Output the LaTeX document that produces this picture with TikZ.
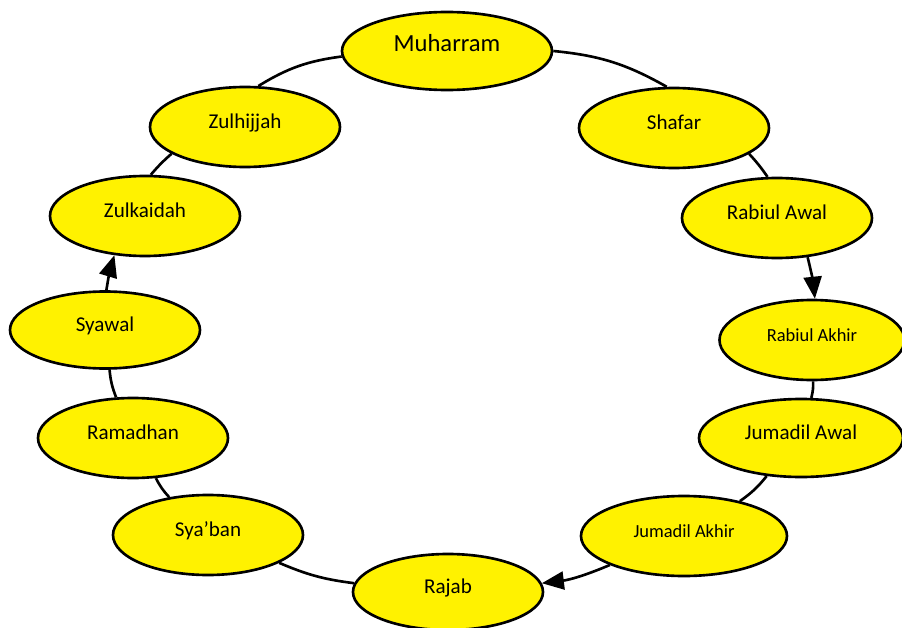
\documentclass[tikz,border=0pt]{standalone}
\usepackage{fontspec}
\setmainfont{Carlito}
\usepackage{tikz}
\usetikzlibrary{shapes.geometric, arrows.meta}
\tikzset{month/.style={ellipse, draw=black, fill=yellow, line width=1.5pt, inner sep=0pt, text height=0.3cm, text depth=0.26cm, minimum width=3.8cm, minimum height=1.6cm, font=\fontsize{12}{14}\selectfont}}
\tikzset{ring/.style={line width=1.5pt, draw=black}}
\tikzset{ringarrow/.style={ring, -{Triangle[length=4.4mm, width=3.6mm]}}}

\begin{document}
\begin{tikzpicture}
            \useasboundingbox (0, 0) rectangle (18.04, -12.56);
            \node[month, minimum width=4.2cm, minimum height=1.56cm, font=\fontsize{14}{16}\selectfont] (muh) at (8.94, -1.02) {Muharram};
            \node[month] (shaf) at (13.48, -2.56) {Shafar};
            \node[month] (rawal) at (15.54, -4.36) {Rabiul Awal};
            \node[month, minimum width=3.7cm, font=\fontsize{10.5}{12}\selectfont] (rakhir) at (16.24, -6.80) {Rabiul Akhir};
            \node[month, minimum width=4.08cm, minimum height=1.56cm] (jawal) at (16.02, -8.76) {Jumadil Awal};
            \node[month, minimum width=4.12cm, font=\fontsize{10.5}{12}\selectfont] (jakhir) at (13.68, -10.72) {Jumadil Akhir};
            \node[month, minimum height=1.52cm] (rajab) at (8.96, -11.84) {Rajab};
            \node[month] (syab) at (4.16, -10.70) {Sya’ban};
            \node[month] (ramad) at (2.66, -8.76) {Ramadhan};
            \node[month, minimum height=1.54cm] (syaw) at (2.10, -6.60) {Syawal};
            \node[month] (zulk) at (2.90, -4.32) {Zulkaidah};
            \node[month] (zulh) at (4.90, -2.54) {Zulhijjah};
            % plain links round the ring
            \draw[ring] (muh.east) to[bend left=12] (shaf.100);
            \draw[ring] (shaf.-19) to[bend left=4] (rawal.103);
            \foreach \from/\to in {rakhir/jawal, jawal/jakhir, rajab/syab, syab/ramad, ramad/syaw} {
                \draw[ring] (\from) to[bend left=8] (\to);
            }
            \draw[ring] (zulk.82) to[bend left=4] (zulh.200);
            \draw[ring] (zulh.72) to[bend left=12] (muh.183);
            % the three arrows
            \draw[ringarrow] (rawal.-52) to[bend left=4] (rakhir.86);
            \draw[ringarrow] (jakhir) to[bend left=8] (rajab);
            \draw[ringarrow] (syaw.88) to[bend left=4] (zulk.232);
        \end{tikzpicture}
\end{document}
